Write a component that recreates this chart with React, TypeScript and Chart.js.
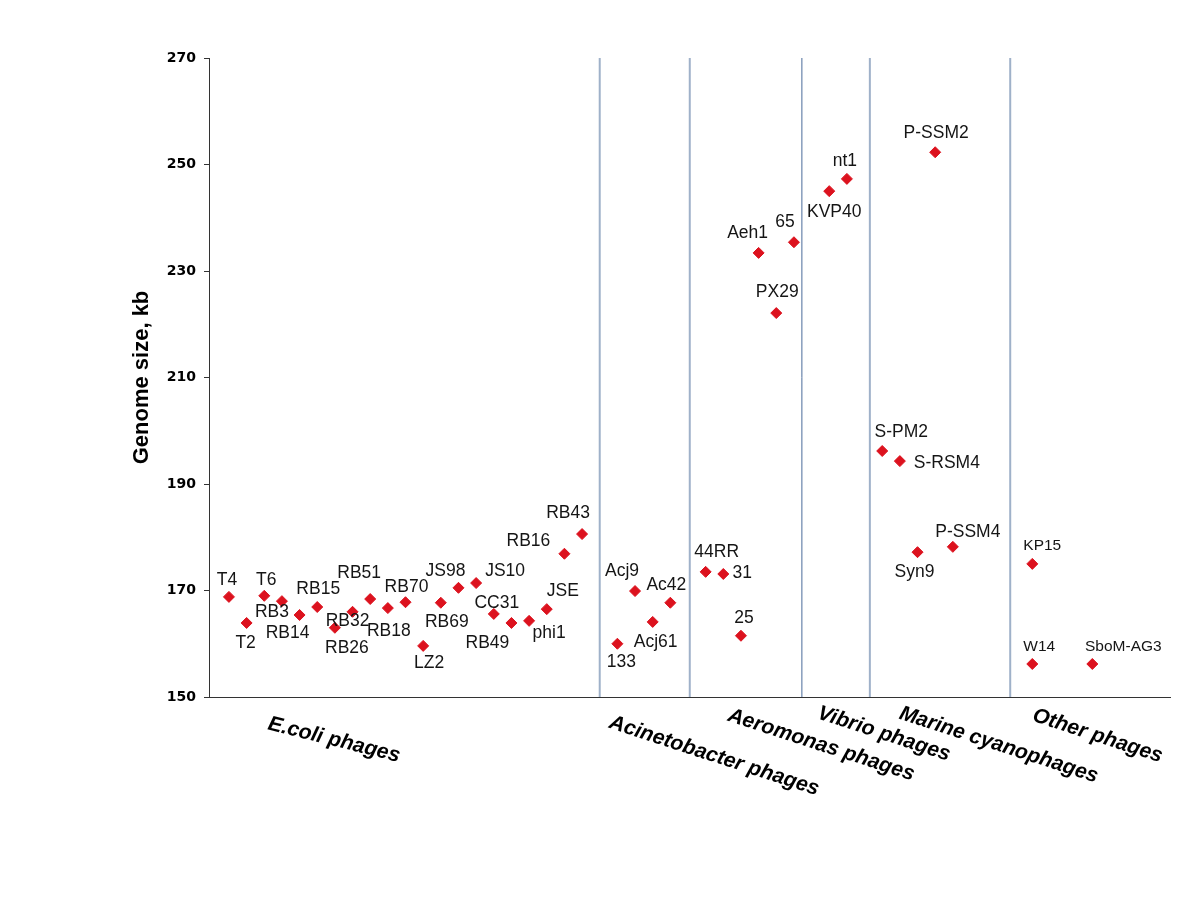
import React, { useEffect, useRef } from "react";
import { Chart, registerables } from "chart.js";

Chart.register(...registerables);

// ---------- data ----------
const PHAGE_NAMES = [
  "T4", "T2", "T6", "RB3", "RB14", "RB15", "RB26", "RB32", "RB51", "RB18", "RB70",
  "LZ2", "RB69", "JS98", "JS10", "CC31", "RB49", "phi1", "JSE", "RB16", "RB43",
  "133", "Acj9", "Acj61", "Ac42",
  "44RR", "31", "25", "Aeh1", "PX29", "65",
  "KVP40", "nt1",
  "S-PM2", "S-RSM4", "Syn9", "P-SSM2", "P-SSM4",
  "KP15", "W14", "SboM-AG3",
];

const PHAGE_POSITIONS = [
  0, 1, 2, 3, 4, 5, 6, 7, 8, 9, 10,
  11, 12, 13, 14, 15, 16, 17, 18, 19, 20,
  22, 23, 24, 25,
  27, 28, 29, 30, 31, 32,
  34, 35,
  37, 38, 39, 40, 41,
  45.5, 45.5, 48.9,
];

const GENOME_SIZES_KB = [
  168.8, 163.9, 169.0, 168.0, 165.4, 166.9, 163.0, 166.0, 168.4, 166.7, 167.8,
  159.6, 167.7, 170.5, 171.4, 165.6, 163.9, 164.3, 166.5, 176.9, 180.6,
  160.0, 169.9, 164.1, 167.7,
  173.5, 173.1, 161.5, 233.4, 222.1, 235.4,
  245.0, 247.3,
  196.2, 194.3, 177.2, 252.3, 178.2,
  175.0, 156.2, 156.2,
];

const GROUP_NAMES = [
  "E.coli phages",
  "Acinetobacter phages",
  "Aeromonas phages",
  "Vibrio phages",
  "Marine cyanophages",
  "Other phages",
];

const GROUP_DIVIDERS = [21, 26.1, 32.45, 36.3, 44.25];

const Y_TICKS = [150, 170, 190, 210, 230, 250, 270];

// ---------- styles ----------
const LABEL_OFFSET: Record<string, [number, number]> = {
  T4: [-2, -17], T2: [-1, 20], T6: [2, -16], RB3: [-10, 11], RB14: [-12, 18],
  RB15: [1, -18], RB26: [12, 20], RB32: [-5, 9], RB51: [-11, -26], RB18: [1, 23],
  RB70: [1, -15], LZ2: [6, 17], RB69: [6, 19], JS98: [-13, -17], JS10: [29, -12],
  CC31: [3, -11], RB49: [-24, 20], phi1: [20, 12], JSE: [16, -18], RB16: [-36, -13],
  RB43: [-14, -21], "133": [4, 18], Acj9: [-13, -20], Acj61: [3, 20], Ac42: [-4, -18],
  "44RR": [11, -20], "31": [19, -1], "25": [3, -18], Aeh1: [-11, -20], PX29: [1, -21],
  "65": [-9, -20], KVP40: [5, 21], nt1: [-2, -18], "S-PM2": [19, -19], "S-RSM4": [47, 2],
  Syn9: [-3, 20], "P-SSM2": [1, -19], "P-SSM4": [15, -15], KP15: [10, -18],
  W14: [7, -17], "SboM-AG3": [31, -17],
};
const SMALL_LABELS = new Set(["KP15", "W14", "SboM-AG3"]);

const GROUP_LABEL_STYLE = [
  { x: 5.95, dy: 43, rot: 14 },
  { x: 27.48, dy: 59, rot: 18 },
  { x: 33.54, dy: 48, rot: 18 },
  { x: 37.1, dy: 37, rot: 18 },
  { x: 43.6, dy: 48, rot: 18 },
  { x: 49.2, dy: 39, rot: 18 },
];

const DIVIDER_STYLE = [
  { color: "#9fb1c9", width: 2 },
  { color: "#9fb1c9", width: 2 },
  { color: "#4a6c9b", width: 1 },
  { color: "#9fb1c9", width: 2 },
  { color: "#9fb1c9", width: 2 },
];

const LABEL_FONT = '"Liberation Sans", Arial, sans-serif';

const labelPlugin = {
  id: "phageLabels",
  afterDatasetsDraw(chart: any) {
    const ctx = chart.ctx;
    const meta = chart.getDatasetMeta(0);
    ctx.save();
    ctx.fillStyle = "#151515";
    ctx.textAlign = "center";
    ctx.textBaseline = "middle";
    meta.data.forEach((el: any, i: number) => {
      const name = PHAGE_NAMES[i];
      const off = LABEL_OFFSET[name] || [0, -18];
      ctx.font = `${SMALL_LABELS.has(name) ? 15.5 : 17.5}px ${LABEL_FONT}`;
      ctx.fillText(name, el.x + off[0], el.y + off[1]);
    });
    const xs = chart.scales.x;
    const bottom = chart.chartArea.bottom;
    ctx.font = `italic bold 21px ${LABEL_FONT}`;
    ctx.fillStyle = "#000";
    GROUP_NAMES.forEach((g, i) => {
      const s = GROUP_LABEL_STYLE[i];
      ctx.save();
      ctx.translate(xs.getPixelForValue(s.x), bottom + s.dy);
      ctx.rotate((s.rot * Math.PI) / 180);
      ctx.fillText(g, 0, 0);
      ctx.restore();
    });
    ctx.restore();
  },
};

export default function App() {
  const canvasRef = useRef<HTMLCanvasElement | null>(null);

  useEffect(() => {
    if (!canvasRef.current) return;
    const points = PHAGE_NAMES.map((_, i) => ({ x: PHAGE_POSITIONS[i], y: GENOME_SIZES_KB[i] }));
    const dividerSets = GROUP_DIVIDERS.map((d, i) => ({
      type: "line" as const,
      data: [
        { x: d, y: Y_TICKS[0] },
        { x: d, y: Y_TICKS[Y_TICKS.length - 1] },
      ],
      borderColor: DIVIDER_STYLE[i].color,
      borderWidth: DIVIDER_STYLE[i].width,
      pointRadius: 0,
      showLine: true,
      fill: false,
    }));
    const chart = new Chart(canvasRef.current, {
      type: "scatter",
      data: {
        datasets: [
          {
            data: points,
            pointStyle: "rectRot",
            pointRadius: 5.5,
            borderWidth: 1,
            backgroundColor: "#dc121e",
            borderColor: "#dc121e",
          } as any,
          ...dividerSets,
        ],
      },
      options: {
        responsive: false,
        animation: false,
        devicePixelRatio: 1,
        layout: { padding: { left: 120, top: 58, right: 30, bottom: 203 } },
        plugins: { legend: { display: false }, tooltip: { enabled: false } },
        scales: {
          x: {
            type: "linear",
            min: -1.13,
            max: 53.3,
            afterFit: (s: any) => {
              s.height = 0;
            },
            ticks: { display: false },
            grid: { display: true, drawOnChartArea: false, drawTicks: false },
            border: { display: true, color: "#333", width: 1 },
          },
          y: {
            type: "linear",
            min: Y_TICKS[0],
            max: Y_TICKS[Y_TICKS.length - 1],
            afterFit: (s: any) => {
              s.width = 89;
            },
            afterBuildTicks: (s: any) => {
              s.ticks = Y_TICKS.map((v) => ({ value: v }));
            },
            ticks: {
              padding: 8,
              color: "#000",
              font: { family: '"DejaVu Sans", Verdana, sans-serif', weight: "bold", size: 14 },
            },
            grid: { display: true, drawOnChartArea: false, drawTicks: true, tickLength: 5, color: "#333" },
            border: { display: true, color: "#333", width: 1 },
            title: {
              display: true,
              text: "Genome size, kb",
              color: "#000",
              padding: { top: 9, bottom: 0 },
              font: { family: LABEL_FONT, weight: "bold", size: 22 },
            },
          },
        },
      },
      plugins: [labelPlugin],
    } as any);
    return () => chart.destroy();
  }, []);

  return (
    <div style={{ position: "absolute", left: 0, top: 0, width: 1200, height: 900, background: "#fff" }}>
      <canvas ref={canvasRef} width={1200} height={900} />
    </div>
  );
}
